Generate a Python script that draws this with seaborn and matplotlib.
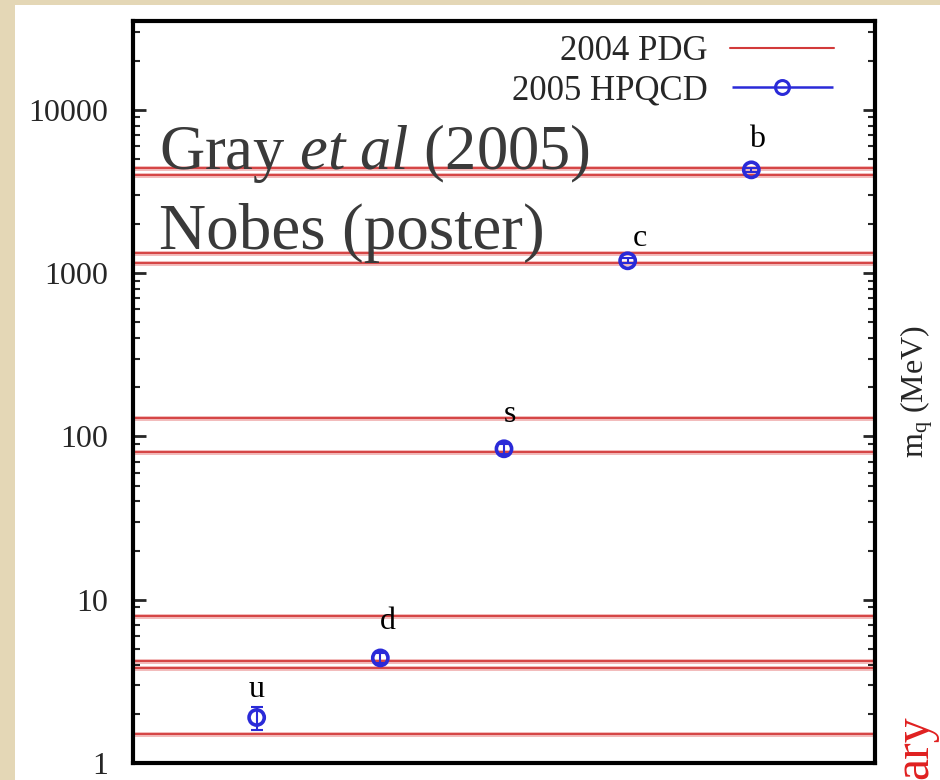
import matplotlib
matplotlib.use("Agg")
import matplotlib.pyplot as plt
import seaborn as sns
import pandas as pd
import numpy as np
from matplotlib.lines import Line2D
from matplotlib.patches import Rectangle
from matplotlib.container import ErrorbarContainer
from matplotlib.legend_handler import HandlerErrorbar
import matplotlib.ticker as mticker

# ---- data ----
quarks = ["u", "d", "s", "c", "b"]
quark_pos = [1, 2, 3, 4, 5]
hpqcd_mass = [1.9, 4.4, 84, 1190, 4290]          # MeV
hpqcd_err = [0.3, 0.3, 6, 40, 100]
pdg_low = [1.5, 4.2, 80, 1150, 4000]
pdg_high = [3.8, 8.0, 130, 1320, 4400]
ytick_vals = [1, 10, 100, 1000, 10000]
ytick_labels = ["1", "10", "100", "1000", "10000"]
label_offsets_px = [(0, 28), (8, 36), (6, 34), (12, 22), (6, 30)]

sns.set_style("white")
plt.rcParams["font.family"] = ["Liberation Serif", "DejaVu Serif"]
plt.rcParams["mathtext.fontset"] = "custom"
plt.rcParams["mathtext.rm"] = "Liberation Serif"
plt.rcParams["mathtext.it"] = "Liberation Serif:italic"

fig = plt.figure(figsize=(9.4, 7.8), dpi=100)
fig.patch.set_facecolor("white")
# slide border texture strips
fig.patches.append(Rectangle((0, 0), 15 / 940, 1, transform=fig.transFigure,
                             facecolor="#e4d7b6", edgecolor="none", zorder=0))
fig.patches.append(Rectangle((0, 1 - 5 / 780), 1, 5 / 780, transform=fig.transFigure,
                             facecolor="#e4d7b6", edgecolor="none", zorder=0))

ax = fig.add_axes([133 / 940, 1 - 763 / 780, (875 - 133) / 940, (763 - 21) / 780])
ax.set_yscale("log")
ax.set_xlim(0, 6)
ax.set_ylim(1, 35000)

red = "#d23a3a"
blue = "#2a2ad8"

# PDG bands as horizontal lines
for lo, hi in zip(pdg_low, pdg_high):
    for v in (lo, hi):
        ax.axhline(v, color="#f2b8b8", lw=3.5, zorder=1)
        ax.axhline(v, color=red, lw=1.3, zorder=2)

df = pd.DataFrame({"quark": quarks, "x": quark_pos, "mass": hpqcd_mass, "err": hpqcd_err})
ax.errorbar(df["x"], df["mass"], yerr=df["err"], fmt="none", ecolor=blue,
            elinewidth=1.5, capsize=4, capthick=1.5, zorder=3)
sns.scatterplot(data=df, x="x", y="mass", ax=ax, marker="o", s=120,
                facecolor="none", edgecolor=blue, linewidth=2.6, zorder=4, legend=False)

for q, x, m, off in zip(quarks, quark_pos, hpqcd_mass, label_offsets_px):
    ax.annotate(q, (x, m), xytext=off, textcoords="offset pixels",
                ha="center", va="center", fontsize=23, color="black")

# Overlay text
ax.text(0.035, 0.80, r"Gray $\mathit{et\ al}$ (2005)", transform=ax.transAxes,
        fontsize=45, color="#3a3a3a", va="baseline", ha="left", zorder=5)
ax.text(0.035, 0.693, "Nobes (poster)", transform=ax.transAxes,
        fontsize=47, color="#3a3a3a", va="baseline", ha="left", zorder=5)

# axes styling
for s in ax.spines.values():
    s.set_linewidth(3)
    s.set_color("black")
ax.set_xticks([])
ax.set_yticks(ytick_vals)
ax.set_yticklabels(ytick_labels)
ax.yaxis.set_minor_locator(mticker.LogLocator(base=10, subs=(2, 3, 4, 5, 6, 7, 8, 9)))
ax.yaxis.set_minor_formatter(mticker.NullFormatter())
ax.tick_params(axis="y", which="major", direction="in", length=9, width=2,
               left=True, right=True, labelsize=23, pad=18)
ax.tick_params(axis="y", which="minor", direction="in", length=5, width=1.5,
               left=True, right=True)
ax.set_xlabel("")
ax.set_ylabel(r"m$_\mathrm{q}$ (MeV)", fontsize=23)
ax.yaxis.set_label_position("right")
ax.yaxis.labelpad = 17

# legend (gnuplot style: text left of sample)
h_pdg = Line2D([], [], color=red, lw=1.5)
h_hq = ax.errorbar([], [], xerr=[], fmt="o", color=blue, mfc="none", ms=10, mew=2.2,
                   capsize=4, elinewidth=1.8)
leg = ax.legend([h_pdg, h_hq], ["2004 PDG", "2005 HPQCD"], loc="upper right",
                bbox_to_anchor=(0.964, 1.0), borderaxespad=0.0,
                frameon=False, fontsize=25, markerfirst=False, handlelength=3.0,
                labelspacing=0.18, handletextpad=0.65,
                handler_map={ErrorbarContainer: HandlerErrorbar(xerr_size=1.45)})

fig.text(915 / 940, 1 - 779 / 780, "ary", rotation=90, color="#e02020",
         fontsize=36, ha="center", va="bottom")

fig.savefig("out.png", dpi=100)
